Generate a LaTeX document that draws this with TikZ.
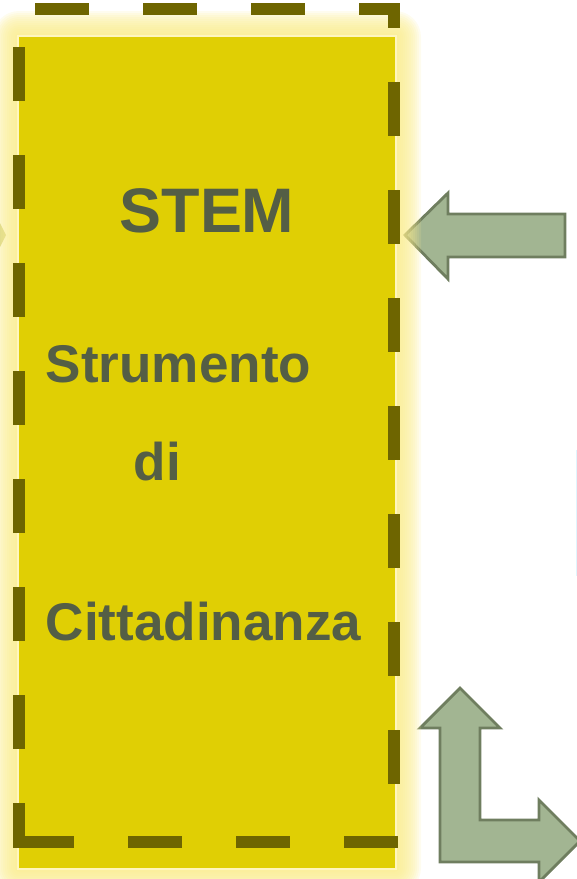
\documentclass[tikz,border=0pt]{standalone}
\usepackage{fontspec}
\setmainfont{Liberation Sans}
\usepackage{tikz}
\definecolor{stemyellow}{RGB}{224,207,4}
\definecolor{glowyellow}{RGB}{250,236,140}
\definecolor{edgelight}{RGB}{255,246,190}
\definecolor{dashdark}{RGB}{110,101,0}
\definecolor{stemtext}{RGB}{84,94,69}
\definecolor{arrowgreen}{RGB}{162,181,146}
\definecolor{arrowedge}{RGB}{111,126,95}
\tikzset{
    arrowshape/.style={fill=arrowgreen, draw=arrowedge, line width=0.8pt, line join=miter},
    dashframe/.style={draw=dashdark, line width=1.2mm, line cap=rect, dash pattern=on 4.2mm off 6.6mm, dash phase=0.9mm},
    stemlabel/.style={text=stemtext, anchor=base, inner sep=0pt, font=\bfseries\fontsize{#1}{#1}\selectfont}
}

\begin{document}
\begin{tikzpicture}[x=0.1mm, y=-0.1mm]
                    \useasboundingbox (0,0) rectangle (577,879);
                    \clip (0,0) rectangle (577,879);
                    \fill[arrowgreen!45!glowyellow] (0,223) -- (6,235) -- (0,247) -- cycle;
                    \draw[arrowshape] (405,235) -- (448,193) -- (448,214) -- (565,214) -- (565,257) -- (448,257) -- (448,279) -- cycle;
                    \draw[arrowshape] (460,688) -- (500,728) -- (480,728) -- (480,820) -- (539,820) -- (539,800) -- (580,841) -- (539,882) -- (539,862) -- (440,862) -- (440,728) -- (420,728) -- cycle;
                    \draw[cyan!12, line width=0.3pt] (576.3,450) -- (576.3,576);
                    \foreach \g in {26,24,...,2}
                        \fill[glowyellow, opacity=0.14, rounded corners=\g*0.1mm] (19-\g,37-\g) rectangle (395+\g,868+\g);
                    \draw[edgelight, line width=0.6pt] (18.5,36.5) rectangle (395.5,868.5);
                    \fill[stemyellow] (19,37) rectangle (395,868);
                    \draw[dashframe] (19,842) -- (19,9) -- (394,9) -- (394,842) -- cycle;
                    \node[stemlabel=17.9] (stem) at (207,232) {STEM};
                    \node[stemlabel=15.1] (strumento) at (178.5,382) {Strumento};
                    \node[stemlabel=15.1] (di) at (157.5,480) {di};
                    \node[stemlabel=15.1] (cittadinanza) at (203.5,640) {Cittadinanza};
                \end{tikzpicture}
\end{document}
